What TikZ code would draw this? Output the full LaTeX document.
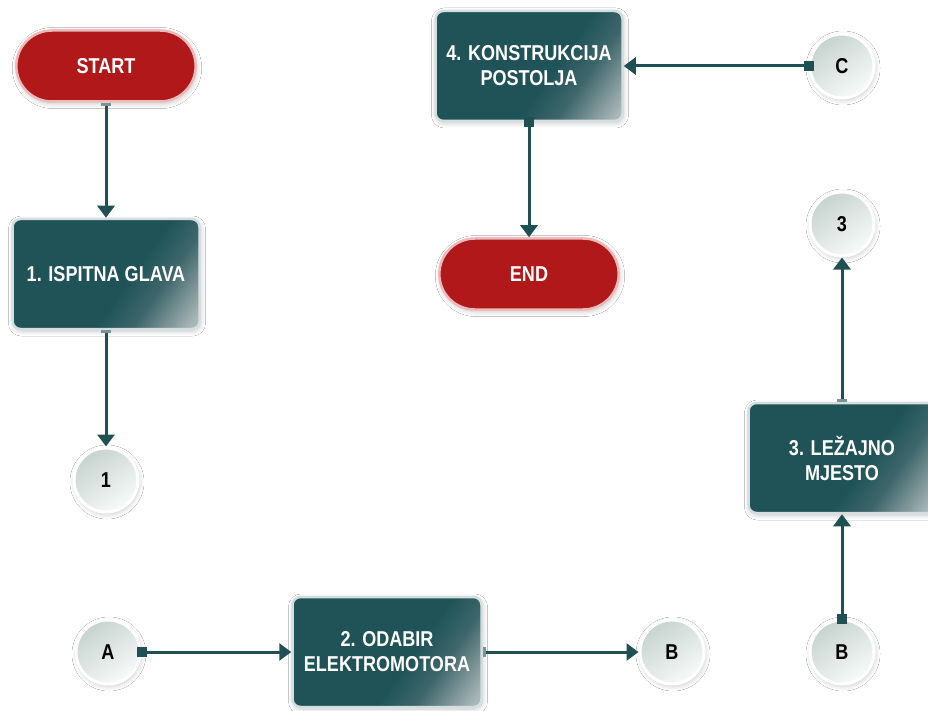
\documentclass[tikz,border=0pt]{standalone}
\usepackage{fontspec}
\newfontfamily\lbl[FakeStretch=0.84]{Liberation Sans}
\usetikzlibrary{arrows.meta,shapes.misc,shadows.blur}
\definecolor{tealD}{RGB}{31,83,88}
\definecolor{tealM}{RGB}{62,102,106}
\definecolor{tealL}{RGB}{170,182,183}
\definecolor{boxB}{RGB}{212,222,222}
\definecolor{redF}{RGB}{176,24,26}
\definecolor{redB}{RGB}{236,186,186}
\definecolor{lineC}{RGB}{30,80,84}
\definecolor{barC}{RGB}{120,148,152}
\definecolor{circT}{RGB}{198,211,207}
\definecolor{circB}{RGB}{248,250,250}
\pgfdeclarehorizontalshading{boxshade}{100bp}{color(0bp)=(tealD); color(57bp)=(tealD); color(67bp)=(tealM); color(82bp)=(tealL); color(100bp)=(tealL)}
\tikzset{
  lab/.style={font=\lbl\bfseries\fontsize{21.5}{25}\selectfont, align=center},
  soft/.style={blur shadow={shadow blur radius=5pt, shadow xshift=1pt, shadow yshift=-2pt, shadow opacity=22, shadow blur steps=10}},
  pill/.style={lab, rounded rectangle, minimum width=186pt, minimum height=71pt, fill=redF, draw=redB, line width=2.5pt, text=white, soft},
  stepbox/.style={lab, rectangle, rounded corners=8pt, minimum width=187pt, minimum height=110pt, shading=boxshade, shading angle=-35, draw=boxB, line width=2.5pt, text=white, soft},
  conn/.style={lab, circle, minimum size=64pt, inner sep=0pt, top color=circT, bottom color=circB, shading angle=35, draw=white, line width=3pt, text=black, soft},
  sqarr/.style={draw=lineC, line width=3pt, {Square[length=10pt,width=10pt,color=lineC]}-{Triangle[length=12pt,width=17pt,color=lineC]}, shorten <=-5pt},
  bararr/.style={draw=lineC, line width=3pt, {Rectangle[length=3pt,width=10pt,color=barC]}-{Triangle[length=12pt,width=17pt,color=lineC]}}
}
\begin{document}
\begin{tikzpicture}[x=1pt,y=-1pt]
\useasboundingbox[fill=white] (0,0) rectangle (928,711);
\node[pill] (start) at (106,66) {START};
\node[stepbox] (b1) at (106,274) {1. ISPITNA GLAVA};
\node[conn] (c1) at (106,480) {1};
\node[conn] (cA) at (108,652) {A};
\node[stepbox, minimum width=189pt] (b2) at (387,652) {2. ODABIR\\ELEKTROMOTORA};
\node[conn] (cB1) at (672,652) {B};
\node[conn] (cB2) at (842,652) {B};
\node[stepbox] (b3) at (842,458) {3. LEŽAJNO\\MJESTO};
\node[conn] (c3) at (842,224) {3};
\node[stepbox] (b4) at (529,66) {4. KONSTRUKCIJA\\POSTOLJA};
\node[pill] (endn) at (529,274) {END};
\node[conn] (cC) at (842,66) {C};

\draw[bararr] (start.south) -- (b1.north);
\draw[bararr] (b1.south) -- (c1.north);
\draw[sqarr] (cA.east) -- (b2.west);
\draw[bararr] (b2.east) -- (cB1.west);
\draw[sqarr] (cB2.north) -- (b3.south);
\draw[bararr] (b3.north) -- (c3.south);
\draw[sqarr] (cC.west) -- (b4.east);
\draw[sqarr] (b4.south) -- (endn.north);
\end{tikzpicture}
\end{document}
